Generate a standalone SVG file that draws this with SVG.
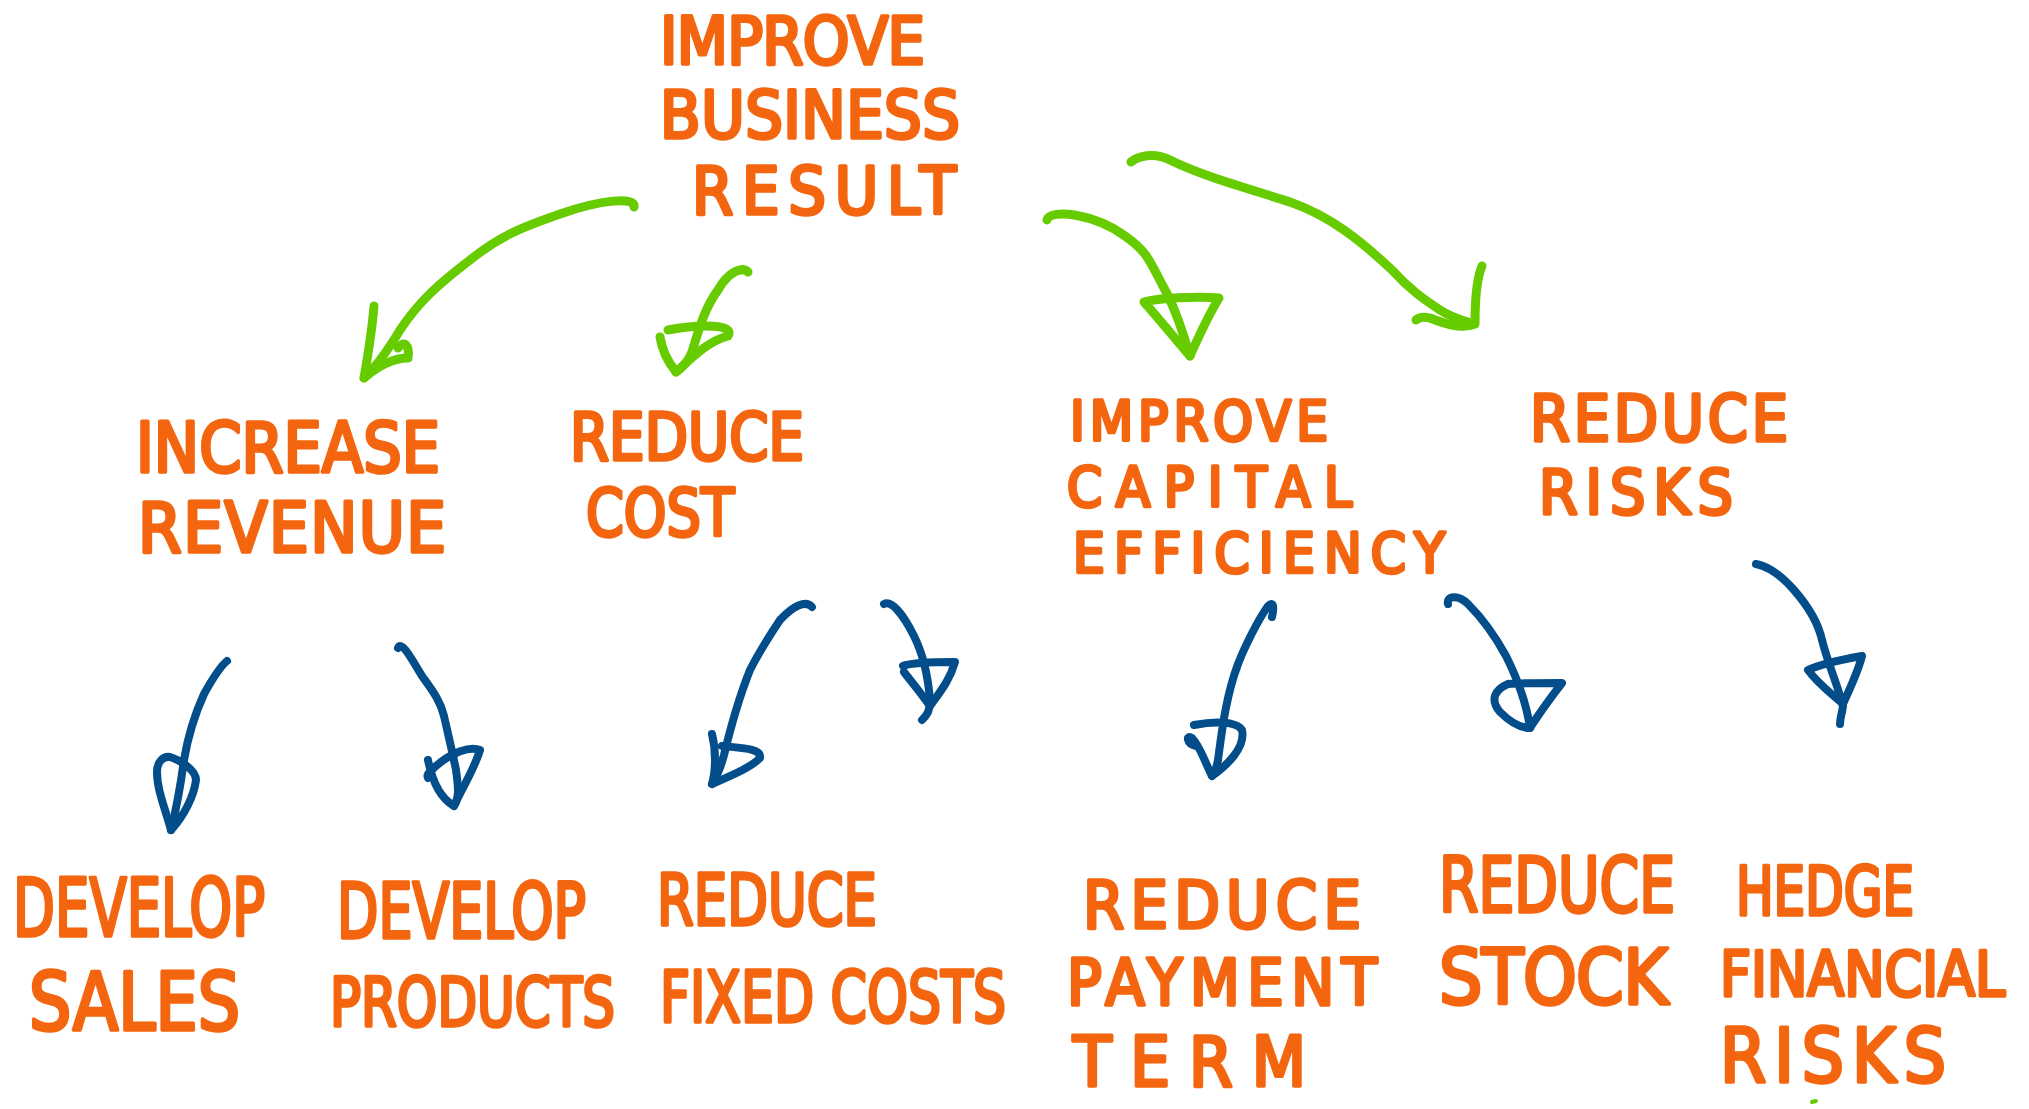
<svg xmlns="http://www.w3.org/2000/svg" width="2029" height="1109" viewBox="0 0 2029 1109">
  <style>
    .lbl { font-family: "Liberation Sans Narrow", "DejaVu Sans Condensed", "Liberation Sans", Arial, sans-serif; font-weight: normal; fill: #F4650F; stroke: #F4650F; stroke-width: 3.5; stroke-linejoin: round; stroke-linecap: round; }
    .g { fill: none; stroke: #66CC00; stroke-width: 9; stroke-linecap: round; stroke-linejoin: round; }
    .b { fill: none; stroke: #034E8A; stroke-width: 8; stroke-linecap: round; stroke-linejoin: round; }
  </style>
  <rect width="2029" height="1109" fill="#FFFFFF"/>

  <!-- connectors: green from the goal, blue from each sub-goal -->
  <g id="connectors">
    <!-- goal -> increase revenue -->
    <path class="g" d="M634,207 C636,196 600,200 560,214 C520,228 500,236 470,260 C440,283 420,300 400,330 C388,350 378,365 364,378"/>
    <path class="g" d="M374,306 C372,330 368,355 364,378 C378,366 392,358 408,358 C410,345 404,340 398,348"/>
    <!-- goal -> reduce cost -->
    <path class="g" d="M748,272 C742,266 728,272 718,290 C706,306 700,325 692,352 C688,362 682,368 676,372"/>
    <path class="g" d="M660,337 C662,350 668,362 676,372 C690,360 706,342 728,336 C736,324 700,324 668,330"/>
    <!-- goal -> improve capital efficiency -->
    <path class="g" d="M1047,220 C1050,208 1095,214 1125,236 C1148,252 1150,262 1164,288 C1175,308 1182,330 1190,356"/>
    <path class="g" d="M1144,302 C1158,298 1198,296 1219,298 C1208,316 1198,338 1190,356 C1176,340 1160,320 1144,302"/>
    <!-- goal -> reduce risks -->
    <path class="g" d="M1131,162 C1138,156 1154,152 1170,160 C1200,175 1240,186 1290,202 C1330,216 1360,240 1392,270 C1410,290 1425,300 1440,310 C1452,318 1462,320 1474,324"/>
    <path class="g" d="M1482,266 C1476,280 1475,300 1475,324 C1460,330 1440,322 1430,318 C1422,316 1418,318 1416,320"/>

    <!-- increase revenue -> develop sales -->
    <path class="b" d="M227,661 C222,665 214,676 204,694 C194,716 188,736 184,760 C180,790 176,810 171,830"/>
    <path class="b" d="M171,830 C165,808 157,790 157,772 C157,762 163,756 170,757 C180,760 196,770 196,780 C194,796 184,816 171,830"/>
    <!-- increase revenue -> develop products -->
    <path class="b" d="M398,648 C402,640 412,660 422,676 C432,690 440,700 444,716 C448,734 452,750 456,770 C458,786 460,796 454,806"/>
    <path class="b" d="M428,760 C432,780 440,798 454,806 C462,788 474,770 480,750 C470,746 452,752 436,766 C430,772 426,774 428,778"/>
    <!-- reduce cost -> reduce fixed costs -->
    <path class="b" d="M812,607 C806,600 794,605 780,620 C770,635 760,650 750,670 C740,695 730,730 724,755 C720,770 716,778 712,784"/>
    <path class="b" d="M712,734 C716,750 716,770 712,784 C730,776 750,768 760,758 C762,748 740,748 722,746"/>
    <!-- reduce cost -> second cost arrow -->
    <path class="b" d="M884,604 C892,600 904,616 914,636 C924,656 928,676 930,700 C930,712 926,716 922,720"/>
    <path class="b" d="M903,666 C912,662 940,662 955,662 C950,680 940,692 930,706 C920,692 910,680 904,672"/>
    <!-- improve capital efficiency -> reduce payment term -->
    <path class="b" d="M1272,617 C1274,608 1274,600 1268,606 C1258,620 1245,646 1238,664 C1226,696 1222,730 1218,760 C1216,770 1214,774 1212,776"/>
    <path class="b" d="M1194,725 C1210,722 1236,720 1242,730 C1246,748 1226,766 1212,776 C1204,760 1200,746 1192,738 C1186,734 1186,744 1196,746"/>
    <!-- improve capital efficiency -> reduce stock -->
    <path class="b" d="M1448,604 C1446,596 1458,594 1468,604 C1482,618 1494,634 1506,656 C1516,676 1526,700 1530,728"/>
    <path class="b" d="M1508,684 C1494,690 1490,700 1500,712 C1510,722 1520,728 1530,728 C1540,712 1552,696 1562,683 C1544,683 1524,683 1508,684"/>
    <!-- reduce risks -> hedge financial risks -->
    <path class="b" d="M1756,564 C1766,566 1780,574 1794,590 C1808,606 1818,622 1822,640 C1828,664 1838,686 1843,706 C1842,714 1840,718 1840,724"/>
    <path class="b" d="M1808,670 C1816,666 1840,660 1862,656 C1858,672 1850,688 1843,704 C1832,694 1818,684 1808,670"/>
  </g>

  <!-- top goal -->
  <g id="n-goal">
    <text class="lbl" x="660" y="64" font-size="66" textLength="265" lengthAdjust="spacing">IMPROVE</text>
    <text class="lbl" x="660" y="138" font-size="66" textLength="300" lengthAdjust="spacing">BUSINESS</text>
    <text class="lbl" x="692" y="214" font-size="66" textLength="264" lengthAdjust="spacing">RESULT</text>
  </g>

  <!-- second level -->
  <g id="n-revenue">
    <text class="lbl" x="136" y="472" font-size="70" textLength="304" lengthAdjust="spacingAndGlyphs">INCREASE</text>
    <text class="lbl" x="138" y="552" font-size="70" textLength="308" lengthAdjust="spacing">REVENUE</text>
  </g>
  <g id="n-cost">
    <text class="lbl" x="570" y="460" font-size="66" textLength="234" lengthAdjust="spacingAndGlyphs">REDUCE</text>
    <text class="lbl" x="586" y="536" font-size="66" textLength="148" lengthAdjust="spacingAndGlyphs">COST</text>
  </g>
  <g id="n-capital">
    <text class="lbl" x="1070" y="440" font-size="56" textLength="258" lengthAdjust="spacing">IMPROVE</text>
    <text class="lbl" x="1067" y="506" font-size="56" textLength="285" lengthAdjust="spacing">CAPITAL</text>
    <text class="lbl" x="1073" y="572" font-size="56" textLength="372" lengthAdjust="spacing">EFFICIENCY</text>
  </g>
  <g id="n-risks">
    <text class="lbl" x="1530" y="441" font-size="64" textLength="258" lengthAdjust="spacing">REDUCE</text>
    <text class="lbl" x="1539" y="514" font-size="62" textLength="194" lengthAdjust="spacing">RISKS</text>
  </g>

  <!-- third level -->
  <g id="n-sales">
    <text class="lbl" x="13" y="936" font-size="80" textLength="252" lengthAdjust="spacingAndGlyphs">DEVELOP</text>
    <text class="lbl" x="29" y="1030" font-size="80" textLength="211" lengthAdjust="spacingAndGlyphs">SALES</text>
  </g>
  <g id="n-products">
    <text class="lbl" x="337" y="938" font-size="76" textLength="249" lengthAdjust="spacingAndGlyphs">DEVELOP</text>
    <text class="lbl" x="330" y="1026" font-size="68" textLength="285" lengthAdjust="spacingAndGlyphs">PRODUCTS</text>
  </g>
  <g id="n-fixed">
    <text class="lbl" x="657" y="925" font-size="72" textLength="220" lengthAdjust="spacingAndGlyphs">REDUCE</text>
    <text class="lbl" x="660" y="1022" font-size="72" textLength="346" lengthAdjust="spacingAndGlyphs">FIXED COSTS</text>
  </g>
  <g id="n-payment">
    <text class="lbl" x="1083" y="928" font-size="66" textLength="278" lengthAdjust="spacing">REDUCE</text>
    <text class="lbl" x="1067" y="1005" font-size="64" textLength="310" lengthAdjust="spacing">PAYMENT</text>
    <text class="lbl" x="1073" y="1086" font-size="70" textLength="233" lengthAdjust="spacing">TERM</text>
  </g>
  <g id="n-stock">
    <text class="lbl" x="1439" y="912" font-size="76" textLength="236" lengthAdjust="spacingAndGlyphs">REDUCE</text>
    <text class="lbl" x="1439" y="1004" font-size="76" textLength="229" lengthAdjust="spacing">STOCK</text>
  </g>
  <g id="n-hedge">
    <text class="lbl" x="1736" y="915" font-size="68" textLength="178" lengthAdjust="spacingAndGlyphs">HEDGE</text>
    <text class="lbl" x="1720" y="996" font-size="63" textLength="285" lengthAdjust="spacingAndGlyphs">FINANCIAL</text>
    <text class="lbl" x="1720" y="1082" font-size="74" textLength="226" lengthAdjust="spacing">RISKS</text>
  </g>

  <!-- stray pen mark -->
  <path d="M1812,1102 l4,-1" fill="none" stroke="#66CC00" stroke-width="4" stroke-linecap="round"/>
</svg>
